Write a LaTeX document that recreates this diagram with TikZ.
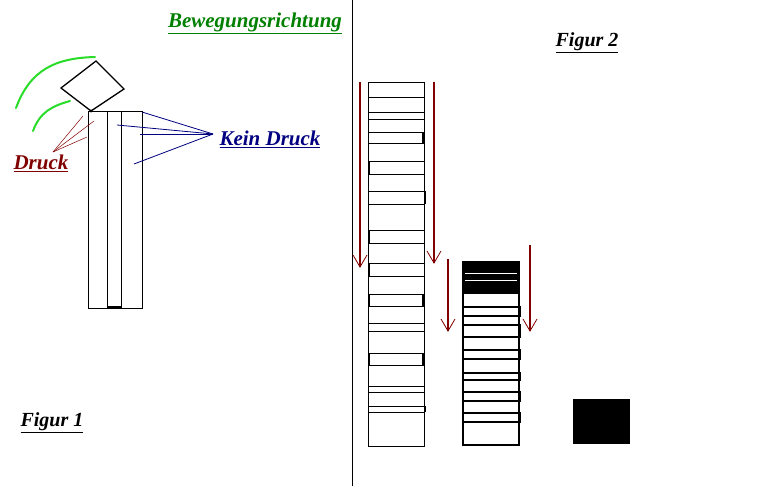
\documentclass[tikz,border=0pt]{standalone}
\usepackage{fontspec}
\setmainfont{Liberation Serif}
\usetikzlibrary{calc}
\definecolor{dred}{RGB}{128,0,0}
\definecolor{navyb}{RGB}{0,0,128}
\definecolor{dgreen}{RGB}{0,128,0}
\definecolor{lgreen}{RGB}{40,220,40}
\begin{document}
\begin{tikzpicture}[x=1pt,y=-1pt,
  lbl/.style={font=\bfseries\itshape\fontsize{21}{24}\selectfont, inner sep=0pt},
  flbl/.style={font=\bfseries\itshape\fontsize{20}{24}\selectfont, inner sep=0pt},
  slab/.style={line width=0.9pt},
  slabB/.style={line width=1.8pt},
  arr/.style={dred, line width=1.4pt},
  vtip/.style={dred, line width=0.8pt}]
\useasboundingbox (0,0) rectangle (764,490);
% divider
\draw[line width=0.8pt] (352,0) -- (352,486);
% ---------- labels ----------
\node[lbl, dgreen] (bew) at (255,23) {\underline{Bewegungsrichtung}};
\node[flbl] (f1) at (52,423) {\underline{Figur 1}};
\node[flbl] (f2) at (587,43) {\underline{Figur 2}};
% ---------- Figur 1 ----------
\draw[line width=1pt] (88,111) rectangle (142,308);
\draw[line width=1pt] (107,111) -- (107,308);
\draw[line width=1pt] (121,111) -- (121,308);
\draw[line width=1.8pt] (107,307) -- (121,307);
% diamond
\draw[line width=1.3pt] (96,61) -- (124,89) -- (91,111) -- (61,88) -- cycle;
\fill (91,111) circle (1.6);
% green curves
\draw[lgreen, line width=2pt, line cap=round] (16,108) .. controls (30,70) and (55,58) .. (95,57);
\draw[lgreen, line width=2pt, line cap=round] (33,131) .. controls (40,112) and (52,106) .. (70,101);
% Druck
\node[lbl, dred] (druck) at (41,163) {\underline{Druck}};
\coordinate (dp) at (53,152);
\coordinate (d1) at (83,116);
\coordinate (d2) at (94,121);
\coordinate (d3) at (87,137);
\foreach \p in {d1,d2,d3} \draw[dred, line width=0.5pt] (dp) -- (\p);
% Kein Druck
\node[lbl, navyb] (kd) at (270,139) {\underline{Kein Druck}};
\coordinate (kp) at (213,134);
\coordinate (k1) at (142,112);
\coordinate (k2) at (117,125);
\coordinate (k3) at (140,134);
\coordinate (k4) at (134,164);
\foreach \p in {k1,k2,k3,k4} \draw[navyb, line width=0.8pt] (kp) -- (\p);
% ---------- Figur 2 ----------
% left column
\draw[slab] (368,82) rectangle (424,446);
\foreach \y in {97,112,119,323,331,386,392} \draw[slab] (368,\y) -- (424,\y);
\foreach \a/\b in {132/143,161/174,191/204,230/243,263/276,294/306,353/365,406/412}
  \draw[slab] (368,\a) rectangle (424,\b);
\draw[slabB] (423,132) -- (423,143);
\draw[slabB] (369.5,161) -- (369.5,174);
\draw[slabB] (425,191) -- (425,204);
\draw[slabB] (369.5,230) -- (369.5,243);
\draw[slabB] (369.5,263) -- (369.5,276);
\draw[slabB] (369.5,294) -- (369.5,306);
\draw[slabB] (423,294) -- (423,306);
\draw[slabB] (369.5,353) -- (369.5,365);
\draw[slabB] (423,353) -- (423,365);
\draw[slabB] (425,406) -- (425,412);
% right column
\draw[line width=1.6pt] (463,262) rectangle (519,445);
\fill (463,262) rectangle (519,294);
\draw[white, line width=0.8pt] (465,273) -- (517,273);
\draw[white, line width=0.8pt] (465,280) -- (517,280);
\foreach \a/\b in {307/316,325/337,350/359,373/380,392/401,413/422}
  \draw[line width=1.6pt] (463,\a) rectangle (520,\b);
% black square
\fill (573,399) rectangle (630,444);
% arrows
\coordinate (a1s) at (360,82);  \coordinate (a1e) at (360,267);
\coordinate (a2s) at (434,82);  \coordinate (a2e) at (434,263);
\coordinate (a3s) at (448,259); \coordinate (a3e) at (448,331);
\coordinate (a4s) at (530,245); \coordinate (a4e) at (530,331);
\foreach \s/\e in {a1s/a1e,a2s/a2e,a3s/a3e,a4s/a4e}{
  \draw[arr] (\s) -- (\e);
  \draw[vtip] ($(\e)+(-7,-12)$) -- (\e) -- ($(\e)+(7,-12)$);
}
\end{tikzpicture}
\end{document}
